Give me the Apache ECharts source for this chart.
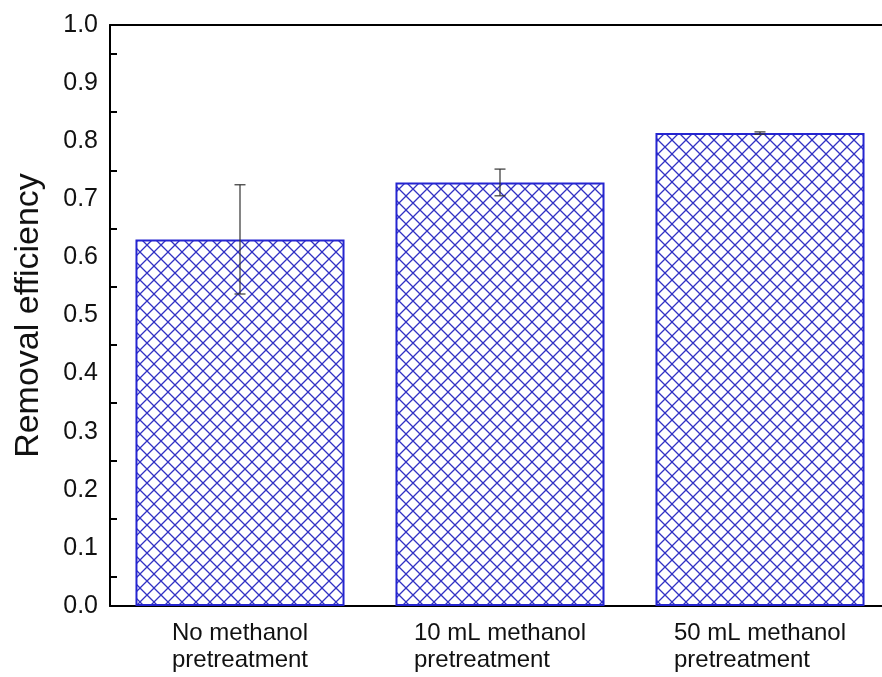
<!DOCTYPE html>
<html>
<head>
<meta charset="utf-8">
<script src="https://cdn.jsdelivr.net/npm/echarts@6/dist/echarts.min.js"></script>
<style>
  html, body { margin: 0; padding: 0; background: #fff; }
  #main { width: 882px; height: 677px; }
</style>
</head>
<body>
<div id="main"></div>
<script>
// data
var categories = ['No methanol\npretreatment', '10 mL methanol\npretreatment', '50 mL methanol\npretreatment'];
var efficiency = [0.631, 0.729, 0.814];
var errors = [0.094, 0.023, 0.002];
var yTicks = ['0.0', '0.1', '0.2', '0.3', '0.4', '0.5', '0.6', '0.7', '0.8', '0.9', '1.0'];

// crosshatch fill
function hatch() {
  var c = document.createElement('canvas');
  c.width = 14; c.height = 14;
  var ctx = c.getContext('2d');
  ctx.strokeStyle = '#3131c4';
  ctx.lineWidth = 1.3;
  ctx.beginPath();
  ctx.moveTo(0, 0); ctx.lineTo(14, 14);
  ctx.moveTo(0, 14); ctx.lineTo(14, 0);
  ctx.stroke();
  return c;
}

var errData = efficiency.map(function (v, i) {
  return [i, v - errors[i], v + errors[i]];
});

var chart = echarts.init(document.getElementById('main'));
chart.setOption({
  animation: false,
  grid: { left: 110, top: 25, width: 780, bottom: 71, outerBoundsMode: 'none', containLabel: false },
  xAxis: [{
    type: 'category',
    data: categories,
    axisLine: { lineStyle: { color: '#000', width: 2 } },
    axisTick: { show: false },
    axisLabel: {
      interval: 0,
      hideOverlap: false,
      margin: 14,
      color: '#111',
      fontFamily: 'Liberation Sans, Arial',
      fontSize: 24,
      lineHeight: 27,
      formatter: function (v) {
        return v.split('\n').map(function (s) { return '{a|' + s + '}'; }).join('\n');
      },
      rich: { a: { align: 'left', fontSize: 24, lineHeight: 27, fontFamily: 'Liberation Sans, Arial', color: '#111' } }
    }
  }, {
    type: 'category',
    position: 'top',
    data: categories,
    axisLine: { lineStyle: { color: '#000', width: 2 } },
    axisTick: { show: false },
    axisLabel: { show: false }
  }],
  yAxis: {
    type: 'value',
    min: 0, max: 1, interval: 0.1,
    name: 'Removal efficiency',
    nameLocation: 'middle',
    nameGap: 64,
    nameTextStyle: { fontSize: 34, fontFamily: 'Liberation Sans, Arial', color: '#111' },
    axisLine: { show: true, lineStyle: { color: '#000', width: 2 } },
    axisTick: { inside: true, length: 11, lineStyle: { color: '#000', width: 2 } },
    minorTick: { show: true, splitNumber: 2, length: 7, lineStyle: { color: '#000', width: 2 } },
    splitLine: { show: false },
    axisLabel: {
      margin: 12,
      fontSize: 25,
      color: '#111',
      fontFamily: 'Liberation Sans, Arial',
      formatter: function (v) { return yTicks[Math.round(v * 10)]; }
    }
  },
  series: [{
    type: 'bar',
    data: efficiency,
    barWidth: '80.4%',
    itemStyle: {
      color: { image: hatch(), repeat: 'repeat' },
      borderColor: '#2525d0',
      borderWidth: 2
    }
  }, {
    type: 'custom',
    data: errData,
    z: 10,
    renderItem: function (params, api) {
      var lo = api.coord([api.value(0), api.value(1)]);
      var hi = api.coord([api.value(0), api.value(2)]);
      var w = 5.5;
      var st = { stroke: '#333', lineWidth: 1.2 };
      return {
        type: 'group',
        children: [
          { type: 'line', shape: { x1: hi[0], y1: hi[1], x2: lo[0], y2: lo[1] }, style: st },
          { type: 'line', shape: { x1: hi[0] - w, y1: hi[1], x2: hi[0] + w, y2: hi[1] }, style: st },
          { type: 'line', shape: { x1: lo[0] - w, y1: lo[1], x2: lo[0] + w, y2: lo[1] }, style: st }
        ]
      };
    }
  }]
});
</script>
</body>
</html>
